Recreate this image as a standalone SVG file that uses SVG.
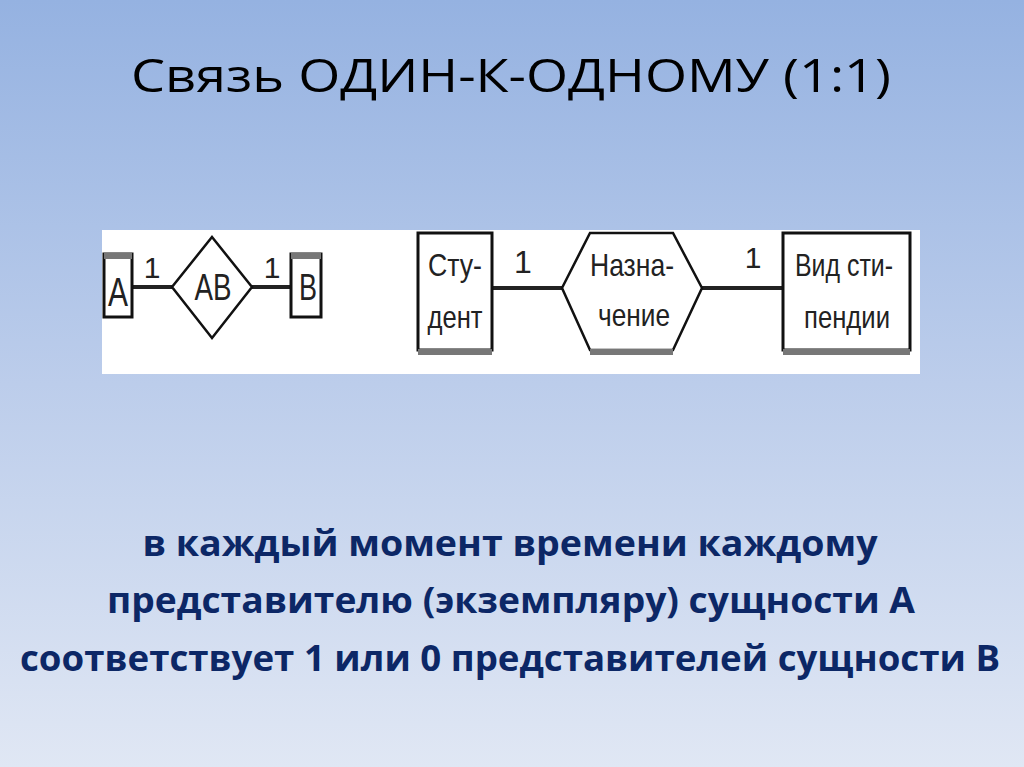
<svg xmlns="http://www.w3.org/2000/svg" width="1024" height="767" viewBox="0 0 1024 767">
<defs>
<linearGradient id="bg" x1="0" y1="0" x2="0" y2="1">
<stop offset="0" stop-color="#95b2e1"/>
<stop offset="0.5" stop-color="#bccdeb"/>
<stop offset="1" stop-color="#e0e7f4"/>
</linearGradient>
</defs>
<style>
.title{font-family:"Open Sans","Liberation Sans",sans-serif;font-size:46px;fill:#000}
.body{font-family:"Open Sans","Liberation Sans",sans-serif;font-size:35px;font-weight:bold;fill:#0c2766}
.lbl{font-family:"Liberation Sans Narrow","Liberation Sans",sans-serif;fill:#222}
.box{fill:#fff;stroke:#111;stroke-width:3}
.shade{fill:#777}
.conn{stroke:#222;stroke-width:4;fill:none}
.rel{fill:#fff;stroke:#111;stroke-width:2.5}
</style>
<rect width="1024" height="767" fill="url(#bg)"/>
<text class="title" x="511" y="92" text-anchor="middle" textLength="760" lengthAdjust="spacingAndGlyphs">Связь ОДИН-К-ОДНОМУ (1:1)</text>
<rect x="102" y="230" width="818" height="144" fill="#fff"/>
<g id="connectors">
<line class="conn" x1="132" y1="287" x2="172" y2="287"/>
<line class="conn" x1="252" y1="287" x2="290" y2="287"/>
<line class="conn" x1="492" y1="288" x2="562" y2="288"/>
<line class="conn" x1="702" y1="288" x2="782" y2="288"/>
<text class="lbl" x="152" y="278" font-size="30" text-anchor="middle">1</text>
<text class="lbl" x="272" y="278" font-size="30" text-anchor="middle">1</text>
<text class="lbl" x="523" y="273" font-size="32" text-anchor="middle">1</text>
<text class="lbl" x="753" y="268" font-size="30" text-anchor="middle">1</text>
</g>
<g id="nodeA">
<rect class="box" x="104" y="254" width="28" height="63"/>
<rect class="shade" x="104" y="253" width="28" height="6"/>
<text class="lbl" x="118" y="306" font-size="40" text-anchor="middle" textLength="20" lengthAdjust="spacingAndGlyphs">A</text>
</g>
<g id="nodeAB">
<polygon class="rel" points="212,237 252,287 212,338 172,287"/>
<text class="lbl" x="213" y="300" font-size="36" text-anchor="middle" textLength="37" lengthAdjust="spacingAndGlyphs">AB</text>
</g>
<g id="nodeB">
<rect class="box" x="291" y="254" width="30" height="63"/>
<rect class="shade" x="291" y="253" width="30" height="6"/>
<text class="lbl" x="308" y="300" font-size="36" text-anchor="middle" textLength="18" lengthAdjust="spacingAndGlyphs">B</text>
</g>
<g id="nodeStudent">
<rect class="box" x="418" y="233" width="74" height="117"/>
<rect class="shade" x="418" y="349" width="74" height="6"/>
<text class="lbl" x="455" y="276" font-size="32" text-anchor="middle" textLength="54" lengthAdjust="spacingAndGlyphs">Сту-</text>
<text class="lbl" x="455" y="328" font-size="32" text-anchor="middle" textLength="55" lengthAdjust="spacingAndGlyphs">дент</text>
</g>
<g id="nodeHex">
<polygon class="rel" points="590,233 673,233 702,288 673,350 590,350 562,288"/>
<rect class="shade" x="590" y="349" width="83" height="6"/>
<text class="lbl" x="632" y="276" font-size="32" text-anchor="middle" textLength="84" lengthAdjust="spacingAndGlyphs">Назна-</text>
<text class="lbl" x="634" y="326" font-size="32" text-anchor="middle" textLength="72" lengthAdjust="spacingAndGlyphs">чение</text>
</g>
<g id="nodeVid">
<rect class="box" x="783" y="233" width="127" height="117"/>
<rect class="shade" x="783" y="349" width="127" height="6"/>
<text class="lbl" x="844" y="276" font-size="32" text-anchor="middle" textLength="98" lengthAdjust="spacingAndGlyphs">Вид сти-</text>
<text class="lbl" x="847" y="328" font-size="32" text-anchor="middle" textLength="86" lengthAdjust="spacingAndGlyphs">пендии</text>
</g>
<text class="body" x="510" y="556" text-anchor="middle" textLength="735" lengthAdjust="spacingAndGlyphs">в каждый момент времени каждому</text>
<text class="body" x="511" y="613" text-anchor="middle" textLength="808" lengthAdjust="spacingAndGlyphs">представителю (экземпляру) сущности А</text>
<text class="body" x="510" y="671" text-anchor="middle" textLength="980" lengthAdjust="spacingAndGlyphs">соответствует 1 или 0 представителей сущности В</text>
</svg>
